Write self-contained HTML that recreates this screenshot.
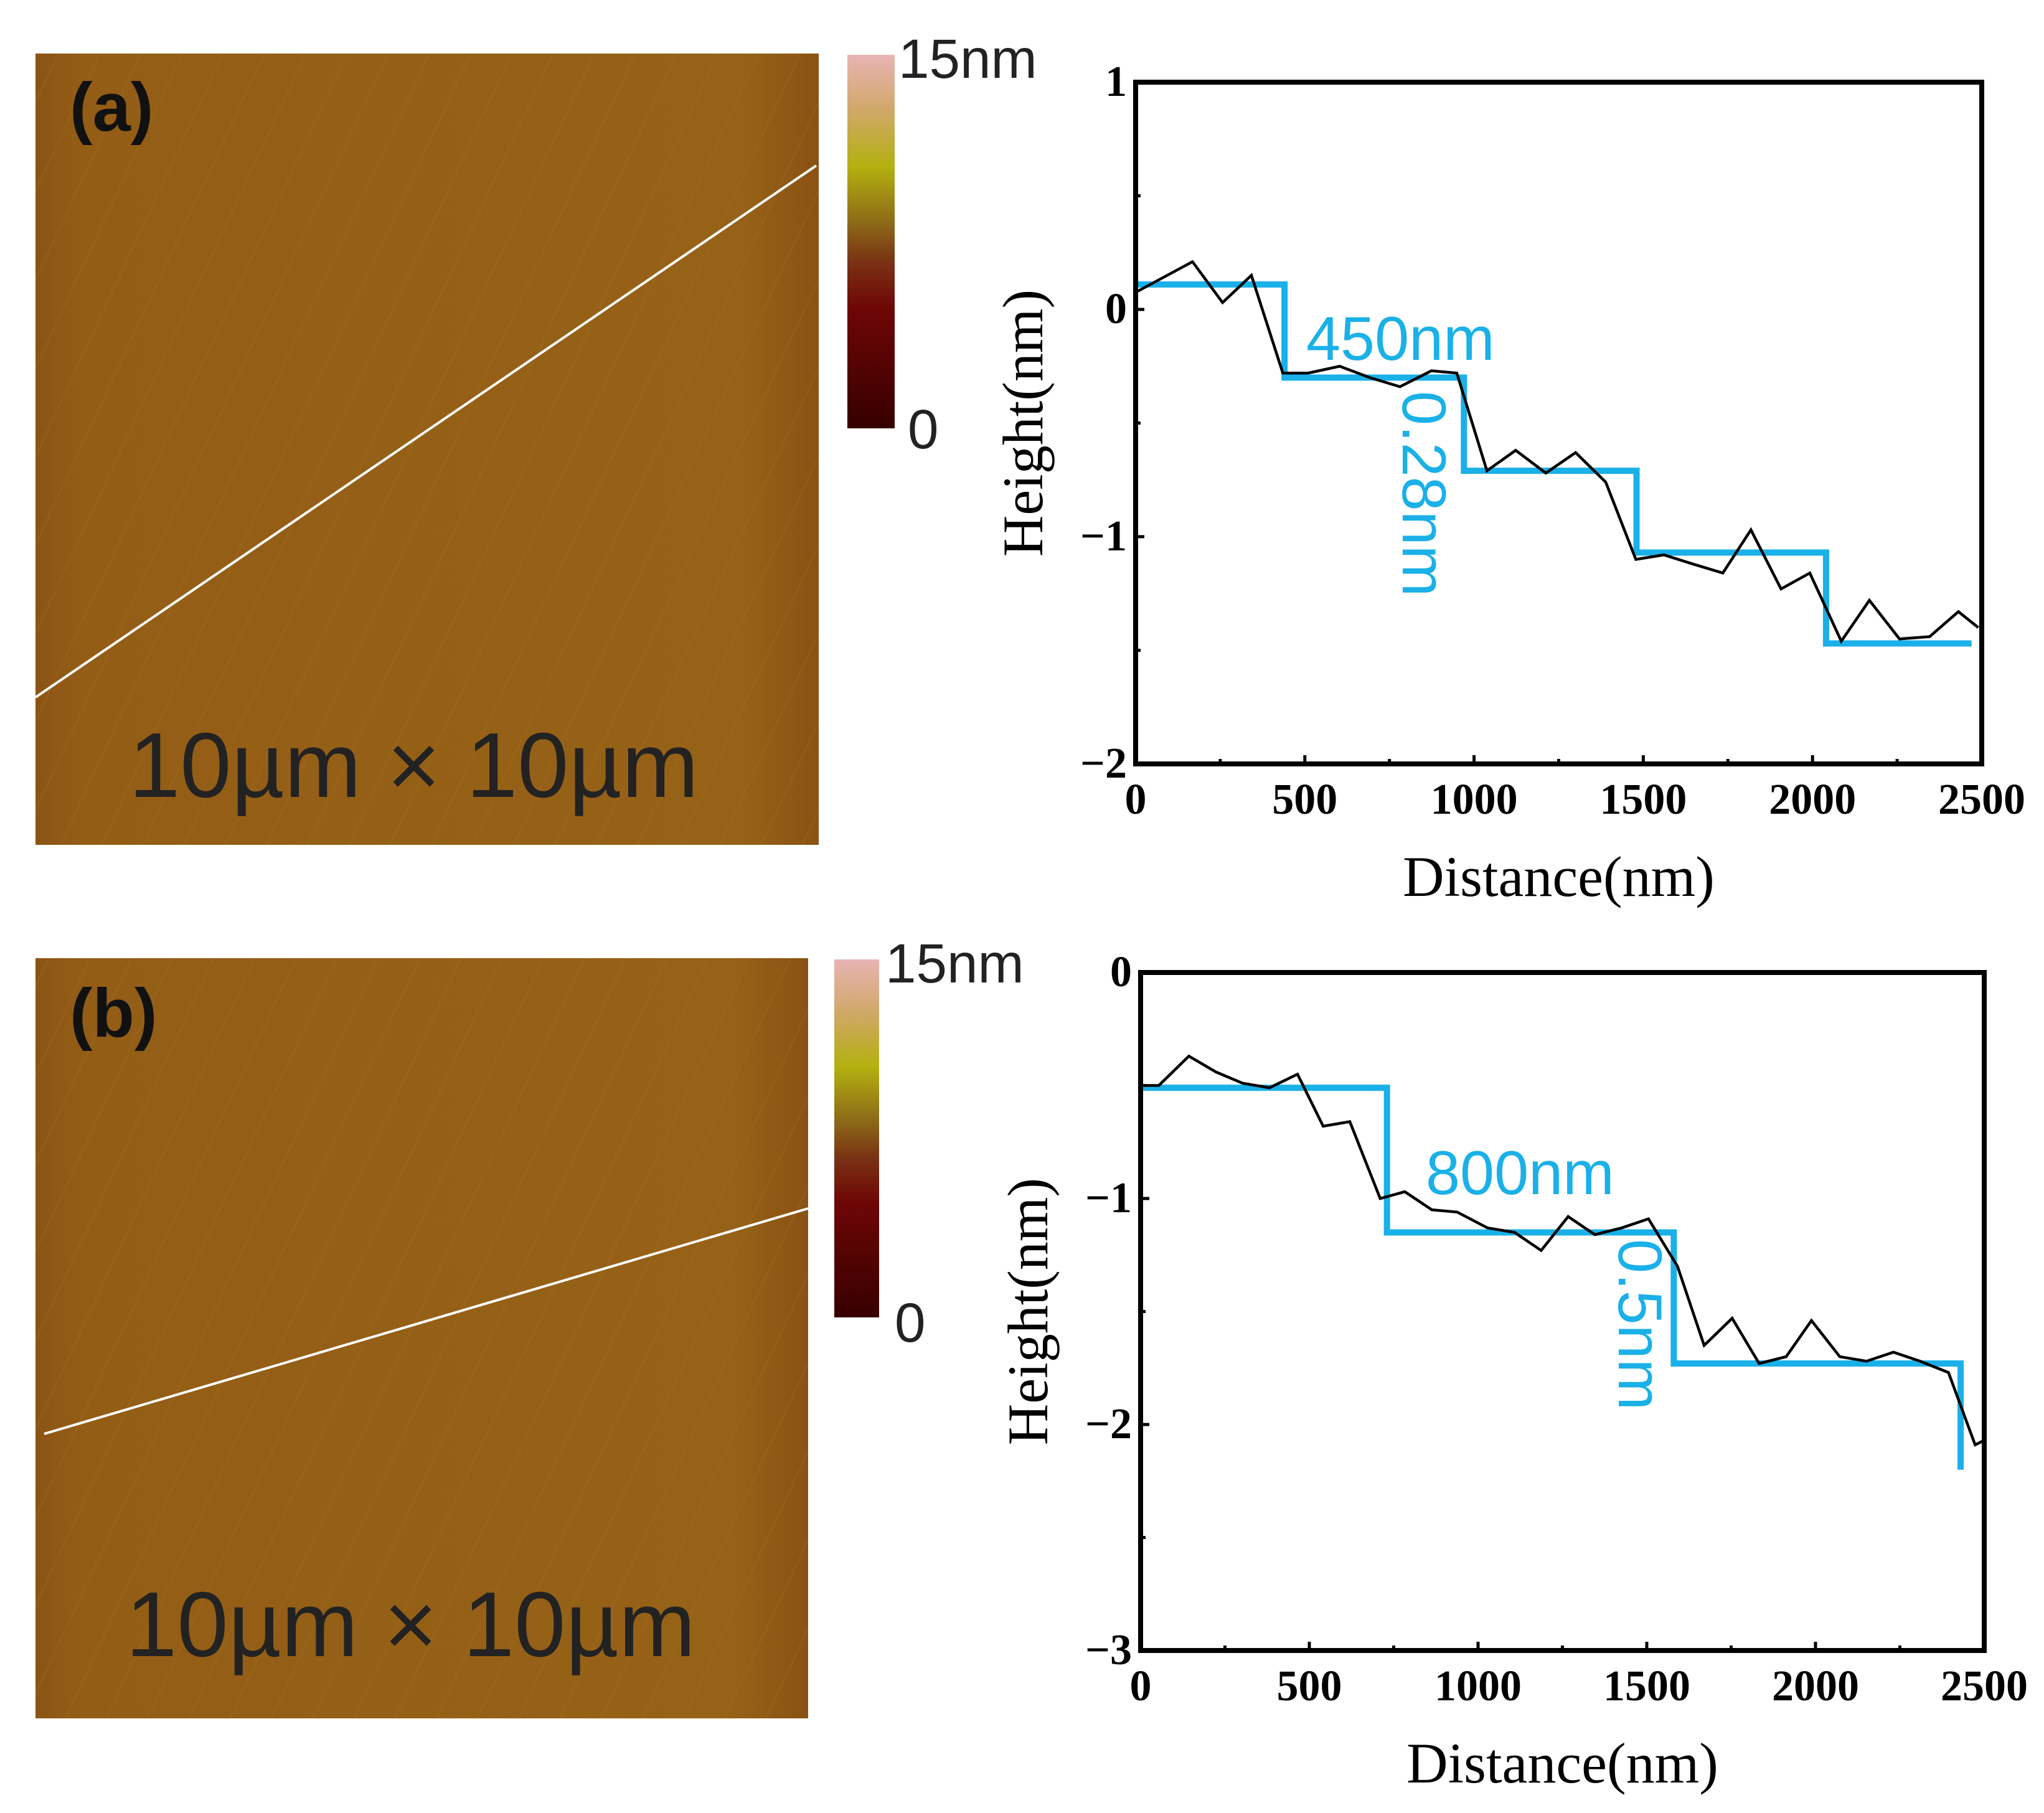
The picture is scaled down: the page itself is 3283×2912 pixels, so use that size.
<!DOCTYPE html>
<html><head><meta charset="utf-8">
<style>
html,body{margin:0;padding:0;background:#fff;}
svg{display:block;}
.tick{font-family:"Liberation Serif",serif;font-weight:bold;font-size:70px;fill:#000;}
.title{font-family:"Liberation Serif",serif;font-size:92px;fill:#000;}
.ann{font-family:"Liberation Sans",sans-serif;font-size:99px;fill:#1ab0e8;}
.lbl{font-family:"Liberation Sans",sans-serif;font-size:89px;fill:#222;}
</style></head>
<body>
<svg id="fig" width="3283" height="2912" viewBox="0 0 3283 2912" xmlns="http://www.w3.org/2000/svg">
<defs>
<linearGradient id="cbar" x1="0" y1="0" x2="0" y2="1">
<stop offset="0" stop-color="#e8b4b4"/><stop offset="0.15" stop-color="#d0a868"/>
<stop offset="0.3" stop-color="#b4b010"/><stop offset="0.45" stop-color="#8c6a18"/>
<stop offset="0.55" stop-color="#7a3414"/><stop offset="0.68" stop-color="#6e0606"/>
<stop offset="1" stop-color="#360000"/></linearGradient>
<linearGradient id="afm" x1="0" y1="0" x2="1" y2="0">
<stop offset="0" stop-color="#8c5414"/><stop offset="0.06" stop-color="#935d16"/>
<stop offset="0.9" stop-color="#966217"/><stop offset="1" stop-color="#8a5214"/></linearGradient>
<pattern id="stripes" width="60" height="60" patternUnits="userSpaceOnUse" patternTransform="rotate(25)">
<rect width="60" height="60" fill="none"/><rect width="3" height="60" fill="#a87420" opacity="0.2"/></pattern>
</defs>

<g>
<rect x="57" y="86" width="1258" height="1271" fill="url(#afm)"/>
<rect x="57" y="86" width="1258" height="1271" fill="url(#stripes)"/>
<line x1="57" y1="1120" x2="1311" y2="266" stroke="#fff" stroke-width="4"/>
<text x="112" y="210" font-family="Liberation Sans,sans-serif" font-weight="bold" font-size="110" fill="#111">(a)</text>
<text x="207" y="1280" class="lbl" style="font-size:148px" fill="#1a1a1a">10µm × 10µm</text>
</g>
<g>
<rect x="1361" y="88" width="76" height="600" fill="url(#cbar)"/>
<text x="1443" y="125" class="lbl">15nm</text>
<text x="1458" y="720" class="lbl">0</text>
</g>

<g>
<rect x="57" y="1539" width="1241" height="1221" fill="url(#afm)"/>
<rect x="57" y="1539" width="1241" height="1221" fill="url(#stripes)"/>
<line x1="71" y1="2303" x2="1298" y2="1941" stroke="#fff" stroke-width="4"/>
<text x="112" y="1665" font-family="Liberation Sans,sans-serif" font-weight="bold" font-size="110" fill="#111">(b)</text>
<text x="202" y="2660" class="lbl" style="font-size:148px">10µm × 10µm</text>
</g>
<g>
<rect x="1340" y="1541" width="72" height="575" fill="url(#cbar)"/>
<text x="1422" y="1578" class="lbl">15nm</text>
<text x="1437" y="2155" class="lbl">0</text>
</g>
<g id="chartA"></g>
<g id="chartB"></g>
</svg>
<script>
// Chart A data
const aX = [6,168,257,342,435,510,603,692,781,874,949,1038,1123,1212,1300,1389,1478,1561,1646,1735,1818,1907,1992,2085,2168,2257,2346,2431,2490];
const aY = [0.08,0.21,0.03,0.15,-0.28,-0.28,-0.25,-0.30,-0.34,-0.27,-0.28,-0.71,-0.62,-0.72,-0.63,-0.76,-1.10,-1.08,-1.12,-1.16,-0.97,-1.23,-1.16,-1.46,-1.28,-1.45,-1.44,-1.33,-1.40];
const aStepX = [0,440,970,1480,2040,2470];
const aStepY = [0.11,-0.30,-0.71,-1.07,-1.47];
const aYTicks = [1,0,-1,-2];
const aYLabels = ["1","0","\u22121","\u22122"];
// Chart B data
const bX = [8,54,143,223,302,382,465,541,620,710,783,863,938,1028,1108,1187,1267,1346,1426,1505,1591,1670,1753,1833,1913,1988,2072,2151,2231,2310,2394,2473,2500];
const bY = [-0.50,-0.50,-0.37,-0.44,-0.49,-0.51,-0.45,-0.68,-0.66,-1.00,-0.97,-1.05,-1.06,-1.13,-1.15,-1.23,-1.08,-1.16,-1.13,-1.09,-1.30,-1.65,-1.53,-1.73,-1.70,-1.54,-1.70,-1.72,-1.68,-1.72,-1.77,-2.09,-2.07];
const bStepX = [0,730,1580,2430];
const bStepY = [-0.51,-1.15,-1.73];
const bStepEnd = -2.2;
const bYTicks = [0,-1,-2,-3];
const bYLabels = ["0","\u22121","\u22122","\u22123"];
const xTicks = [0,500,1000,1500,2000,2500];
const xLabels = ["0","500","1000","1500","2000","2500"];

const NS="http://www.w3.org/2000/svg";
function mk(parent,tag,attrs){const e=document.createElementNS(NS,tag);for(const k in attrs)e.setAttribute(k,attrs[k]);parent.appendChild(e);return e;}

function chart(g,box,yMin,yMax,xs,ys,stepX,stepY,yTicks,yLabels,anns,endY){
  const sx=v=>box.l+(v-0)/(2500)*(box.r-box.l);
  const sy=v=>box.b-(v-yMin)/(yMax-yMin)*(box.b-box.t);
  for(let i=0;i<xTicks.length;i++){
    const x=sx(xTicks[i]);
    const t=mk(g,'line',{x1:x,x2:x,y1:box.b,y2:box.b-14,stroke:'#000','stroke-width':5});
    
    
    if(i<xTicks.length-1){const xm=sx(xTicks[i]+250);const m=mk(g,'line',{x1:xm,x2:xm,y1:box.b,y2:box.b-8,stroke:'#000','stroke-width':5});
      
      }
    const tx=mk(g,'text',{x:x,y:box.b+80,'text-anchor':'middle',class:'tick'});tx.textContent=xLabels[i];
    
    
  }
  for(let i=0;i<yTicks.length;i++){
    const y=sy(yTicks[i]);
    const t=mk(g,'line',{x1:box.l,x2:box.l+14,y1:y,y2:y,stroke:'#000','stroke-width':5});
    
    
    if(i<yTicks.length-1){const ym=sy(yTicks[i]-0.5);const m=mk(g,'line',{x1:box.l,x2:box.l+8,y1:ym,y2:ym,stroke:'#000','stroke-width':5});
      
      }
    const tx=mk(g,'text',{x:box.l-14,y:y+22,'text-anchor':'end',class:'tick'});tx.textContent=yLabels[i];
    
    
  }
  let d='M'+sx(stepX[0])+','+sy(stepY[0]);
  for(let i=0;i<stepY.length;i++){
    d+=' L'+sx(stepX[i+1])+','+sy(stepY[i]);
    if(i+1<stepY.length)d+=' L'+sx(stepX[i+1])+','+sy(stepY[i+1]);
  }
  if(endY!==undefined)d+=' L'+sx(stepX[stepX.length-1])+','+sy(endY);
  const st=mk(g,'path',{d:d,fill:'none',stroke:'#1ab0e8','stroke-width':10});
  
  
  let p='';
  for(let i=0;i<xs.length;i++)p+=(i?' L':'M')+sx(xs[i])+','+sy(ys[i]);
  const pl=mk(g,'path',{d:p,fill:'none',stroke:'#000','stroke-width':4.5,'stroke-linejoin':'miter'});
  
  
  const fr=mk(g,'rect',{x:box.l,y:box.t,width:box.r-box.l,height:box.b-box.t,fill:'none',stroke:'#000','stroke-width':8});
  
  
  const xt=mk(g,'text',{x:(box.l+box.r)/2,y:box.b+212,'text-anchor':'middle',class:'title'});xt.textContent='Distance(nm)';
  
  
  const yx=box.l-150, yy=(box.t+box.b)/2;
  const yt=mk(g,'text',{x:yx,y:yy,'text-anchor':'middle',class:'title',transform:'rotate(-90 '+yx+' '+yy+')'});yt.textContent='Height(nm)';
  
  
  for(const a of anns){
    const at=mk(g,'text',{x:a.x,y:a.y,class:'ann'});
    if(a.rot)at.setAttribute('transform','rotate(90 '+a.x+' '+a.y+')');
    at.textContent=a.t;
    
    
  }
}
chart(document.getElementById('chartA'),{l:1824,r:3183,t:132,b:1227},-2,1,aX,aY,aStepX,aStepY,aYTicks,aYLabels,
  [{x:2098,y:578,t:'450nm',name:'terrace-width-label-a'},{x:2253,y:628,t:'0.28nm',rot:true,name:'step-height-label-a'}]);
chart(document.getElementById('chartB'),{l:1832,r:3187,t:1562,b:2651},-3,0,bX,bY,bStepX,bStepY,bYTicks,bYLabels,
  [{x:2290,y:1918,t:'800nm',name:'terrace-width-label-b'},{x:2600,y:1990,t:'0.5nm',rot:true,name:'step-height-label-b'}],bStepEnd);
</script>
</body></html>
